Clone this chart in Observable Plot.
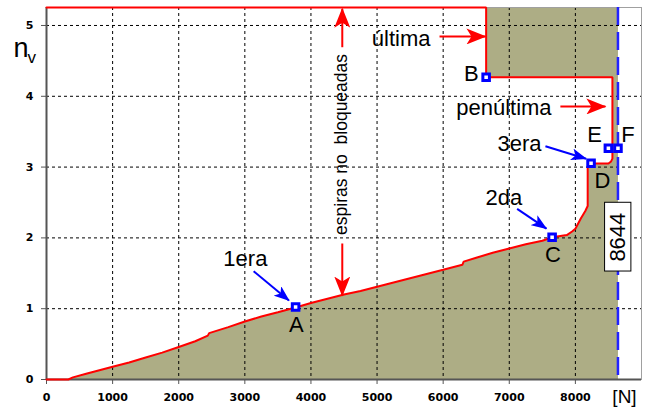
<!DOCTYPE html>
<html><head><meta charset="utf-8">
<script src="https://cdn.jsdelivr.net/npm/d3@7"></script>
<script src="https://cdn.jsdelivr.net/npm/@observablehq/plot@0.6"></script>
<style>body{margin:0;background:#fff}</style>
</head><body><div id="chart"></div>
<script>
// ---- data ----
const curveX = [0, 330, 400, 600, 800, 1000, 1250, 1500, 1750, 2000, 2250, 2440, 2460, 2750, 3000, 3250, 3500, 3780, 4000, 4250, 4500, 4750, 5000, 5250, 5500, 5750, 6000, 6290, 6310, 6500, 6750, 7000, 7250, 7500, 7650, 7870, 7950, 8000, 8080, 8150, 8186, 8186, 8200, 8237, 8500, 8540, 8560, 8560, 6650, 6650, 0];
const curveY = [0, 0, 0.03, 0.08, 0.13, 0.18, 0.24, 0.31, 0.38, 0.46, 0.54, 0.62, 0.655, 0.74, 0.82, 0.89, 0.95, 1.02, 1.08, 1.14, 1.2, 1.25, 1.31, 1.37, 1.43, 1.49, 1.55, 1.62, 1.665, 1.72, 1.79, 1.85, 1.91, 1.96, 2.01, 2.04, 2.09, 2.13, 2.27, 2.38, 2.45, 3.0, 3.04, 3.05, 3.05, 3.08, 3.12, 4.27, 4.27, 5.254, 5.254];
const xTicks = [0, 1000, 2000, 3000, 4000, 5000, 6000, 7000, 8000];
const yTicks = [0, 1, 2, 3, 4, 5];
const xMax = 9000, yMax = 5.254, nLimit = 8644;

const pointLabels = ["A", "B", "C", "D", "E", "F"];
const pointX = [3768, 6650, 7648, 8237, 8499, 8644];
const pointY = [1.024, 4.27, 2.01, 3.055, 3.267, 3.267];
const letterX = [3780, 6428, 7660, 8408, 8291, 8794];
const letterY = [0.668, 4.209, 1.657, 2.698, 3.352, 3.352];

const noteText = ["última", "penúltima", "3era", "2da", "1era"];
const noteX = [4920, 6197, 6822, 6640, 2675];
const noteY = [4.717, 3.73, 3.234, 2.458, 1.596];

const redArrowX1 = [5945, 7773, 4474, 4474];
const redArrowY1 = [4.845, 3.856, 4.693, 1.921];
const redArrowX2 = [6640, 8454, 4474, 4474];
const redArrowY2 = [4.845, 3.856, 5.236, 1.186];
const blueArrowX1 = [7547, 7119, 3133];
const blueArrowY1 = [3.295, 2.41, 1.53];
const blueArrowX2 = [8162, 7562, 3667];
const blueArrowY2 = [3.117, 2.13, 1.116];

const vertText = "espiras no\u00a0\u00a0bloqueadas";
const vertTextX = 4466, vertTextY = 3.32;
const boxX1 = 8449, boxX2 = 8847, boxY1 = 1.525, boxY2 = 2.496;

// ---- derived tables ----
const RED = "#ff0000", BLUE = "#0000ff", OLIVE = "#adad85";
const curve = curveX.map((x, i) => ({x, y: curveY[i]}));
const fillPoly = curve.slice(0, -1).concat([{x: nLimit, y: yMax}, {x: nLimit, y: 0}]);
const points = pointLabels.map((l, i) => ({l, x: pointX[i], y: pointY[i]}));
const letters = pointLabels.map((l, i) => ({l, x: letterX[i], y: letterY[i]}));
const notes = noteText.map((t, i) => ({t, x: noteX[i], y: noteY[i]}));
const redArrows = redArrowX1.map((x1, i) => ({x1, y1: redArrowY1[i], x2: redArrowX2[i], y2: redArrowY2[i]}));
const blueArrows = blueArrowX1.map((x1, i) => ({x1, y1: blueArrowY1[i], x2: blueArrowX2[i], y2: blueArrowY2[i]}));
const font = "'Liberation Sans', Arial, sans-serif";
const tickFont = "'DejaVu Sans', Verdana, sans-serif";

const chart = Plot.plot({
  width: 646, height: 409,
  marginLeft: 46, marginRight: 5, marginTop: 7, marginBottom: 30,
  x: {domain: [0, xMax]},
  y: {domain: [0, yMax]},
  style: {background: "#fff", color: "#000"},
  marks: [
    Plot.line(fillPoly, {x: "x", y: "y", fill: OLIVE, stroke: "none", curve: "linear"}),
    Plot.gridX(xTicks.slice(1), {stroke: "#000", strokeOpacity: 1, strokeWidth: 1, strokeDasharray: "3,3"}),
    Plot.gridY(yTicks.slice(1), {stroke: "#000", strokeOpacity: 1, strokeWidth: 1, strokeDasharray: "3,3"}),
    Plot.frame({stroke: "#a0a0a0"}),
    Plot.axisX({ticks: xTicks, tickFormat: d => String(d), tickSize: 5, tickPadding: 9, label: null, stroke: "#555",
      fontFamily: tickFont, fontSize: 11, fontWeight: "bold", fill: "#000"}),
    Plot.axisY({ticks: yTicks, tickFormat: d => String(d), tickSize: 5, tickPadding: 8, label: null, stroke: "#555",
      fontFamily: tickFont, fontSize: 11, fontWeight: "bold", fill: "#000"}),
    Plot.ruleX([0], {stroke: "#555", strokeWidth: 2}),
    Plot.ruleY([0], {stroke: "#555", strokeWidth: 2}),
    Plot.ruleX([nLimit], {stroke: "#2222ff", strokeWidth: 2.5, strokeDasharray: "18,7"}),
    Plot.line(curve, {x: "x", y: "y", stroke: RED, strokeWidth: 2, curve: "linear", strokeLinejoin: "miter"}),
    Plot.link(redArrows, {x1: "x1", y1: "y1", x2: "x2", y2: "y2", stroke: RED, strokeWidth: 2, markerEnd: "arrow"}),
    Plot.link(blueArrows, {x1: "x1", y1: "y1", x2: "x2", y2: "y2", stroke: BLUE, strokeWidth: 2, markerEnd: "arrow"}),
    Plot.dot(points, {x: "x", y: "y", symbol: "square", r: 3.7, fill: "#fff", stroke: BLUE, strokeWidth: 3}),
    Plot.text(letters, {x: "x", y: "y", text: "l", textAnchor: "middle", lineAnchor: "bottom", fontSize: 22, fontFamily: font, fill: "#000"}),
    Plot.text(notes, {x: "x", y: "y", text: "t", textAnchor: "start", lineAnchor: "bottom", fontSize: 22, fontFamily: font, fill: "#000"}),
    Plot.text([vertText], {x: vertTextX, y: vertTextY, text: d => d, rotate: -90, textAnchor: "middle", lineAnchor: "middle", fontSize: 17.5, fontFamily: font, fill: "#000"}),
    Plot.rect([0], {x1: boxX1, x2: boxX2, y1: boxY1, y2: boxY2, fill: "#fff", stroke: "#000", strokeWidth: 1}),
    Plot.text([String(nLimit)], {x: (boxX1 + boxX2) / 2, y: (boxY1 + boxY2) / 2, text: d => d, rotate: -90, textAnchor: "middle", lineAnchor: "middle", fontSize: 22, fontFamily: font, fill: "#000"}),
    Plot.text(["n"], {frameAnchor: "top-left", dx: -33, dy: 49, text: d => d, textAnchor: "start", lineAnchor: "bottom", fontSize: 27, fontFamily: font, fill: "#000"}),
    Plot.text(["v"], {frameAnchor: "top-left", dx: -19, dy: 55, text: d => d, textAnchor: "start", lineAnchor: "bottom", fontSize: 17, fontFamily: font, fill: "#000"}),
    Plot.text(["[N]"], {frameAnchor: "bottom-right", dx: -17, dy: 23, text: d => d, textAnchor: "middle", lineAnchor: "bottom", fontSize: 19, fontFamily: font, fill: "#000", letterSpacing: 2})
  ]
});

// filled, notched arrowheads
d3.select(chart).selectAll("marker").each(function () {
  const m = d3.select(this);
  const color = m.attr("stroke");
  const big = color === RED;
  const L = big ? 19 : 15, W = big ? 8 : 6, N = big ? 5 : 4;
  m.attr("viewBox", `${-L} ${-W} ${L + 2} ${2 * W}`)
    .attr("markerWidth", L + 2).attr("markerHeight", 2 * W)
    .attr("markerUnits", "userSpaceOnUse")
    .attr("fill", color).attr("stroke", "none");
  m.selectAll("*").remove();
  m.append("path").attr("d", `M1,0L${-L},${-W}L${-L + N},0L${-L},${W}Z`);
});

document.getElementById("chart").appendChild(chart);
</script>
</body></html>
